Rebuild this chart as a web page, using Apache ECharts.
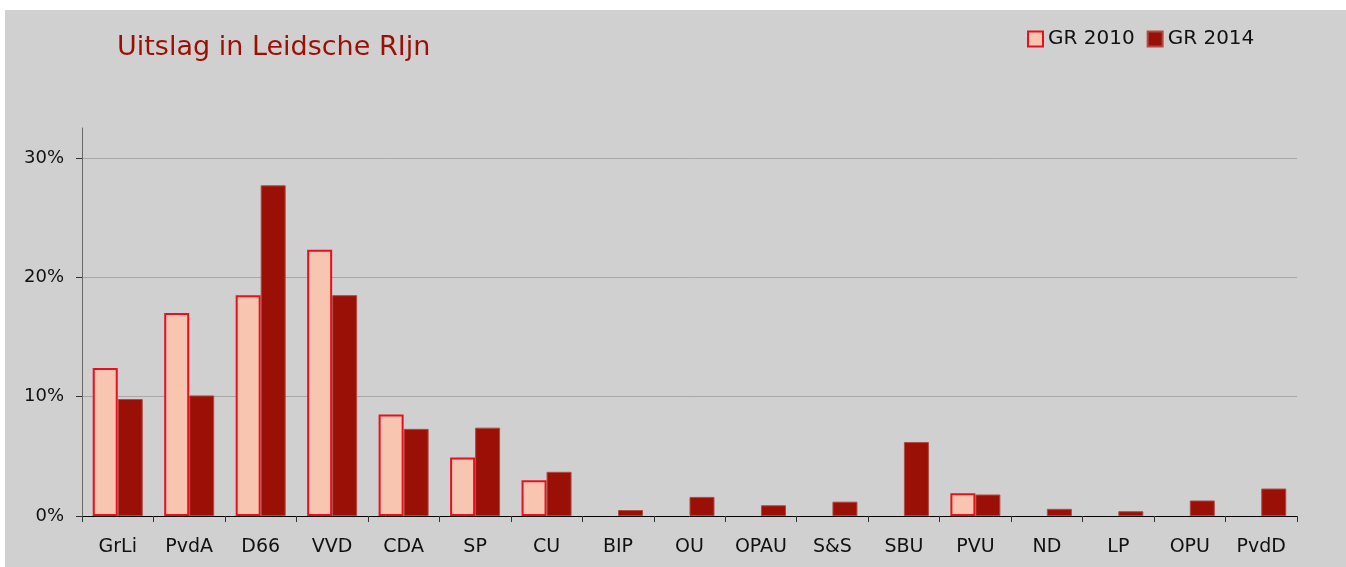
<!DOCTYPE html>
<html>
<head>
	<title>Uitslag in Leidsche RIjn</title>
	<meta charset="utf-8"/>
	<style type="text/css">
		html,body{
			margin: 0;
			padding: 0;
			background: #ffffff;
			overflow: hidden;
		}
		#chart{
			position: absolute;
			left: 5px;
			top: 10px;
			width: 1341px;
			height: 557px;
			background: #d0d0d0;
		}
	</style>
</head>
<body>
	<div id="chart"></div>

	<script src="https://cdn.jsdelivr.net/npm/echarts@6/dist/echarts.min.js"></script>
	<script type="text/javascript">

		// partijen
		var parties = ['GrLi','PvdA','D66','VVD','CDA','SP','CU','BIP','OU','OPAU','S&S','SBU','PVU','ND','LP','OPU','PvdD'];

		// uitslag in %
		var gr2010 = [12.4, 17.0, 18.5, 22.3, 8.5, 4.9, 3.0, null, null, null, null, null, 1.9, null, null, null, null];
		var gr2014 = [9.8, 10.1, 27.7, 18.5, 7.3, 7.4, 3.7, 0.5, 1.6, 0.9, 1.2, 6.2, 1.8, 0.6, 0.4, 1.3, 2.3];

		var yTicks = [0, 10, 20, 30];

		var chart = echarts.init(document.getElementById('chart'));

		var option = {
			backgroundColor: '#d0d0d0',
			animation: false,
			textStyle: {
				fontFamily: 'DejaVu Sans'
			},
			title: {
				text: 'Uitslag in Leidsche RIjn',
				left: 107,
				top: 19,
				textStyle: {
					color: '#9b1006',
					fontSize: 27,
					fontWeight: 'normal',
					fontFamily: 'DejaVu Sans'
				}
			},
			legend: {
				data: ['GR 2010','GR 2014'],
				icon: 'rect',
				left: 1017,
				top: 14,
				itemWidth: 15,
				itemHeight: 15,
				itemGap: 12,
				textStyle: {
					color: '#111111',
					fontSize: 20
				}
			},
			grid: {
				left: 77,
				top: 118,
				width: 1215,
				height: 388
			},
			xAxis: {
				type: 'category',
				data: parties,
				axisLine: { lineStyle: { color: '#000000', width: 1 } },
				axisTick: { show: true, length: 6, lineStyle: { color: '#333333' } },
				axisLabel: { color: '#111111', fontSize: 19, margin: 22 }
			},
			yAxis: {
				type: 'value',
				min: 0,
				max: 32.5,
				interval: 10,
				axisLine: { show: true, lineStyle: { color: '#666666', width: 1 } },
				axisTick: { show: true, length: 6, lineStyle: { color: '#333333' }, customValues: yTicks },
				axisLabel: {
					color: '#111111',
					fontSize: 18,
					margin: 18,
					customValues: yTicks,
					formatter: '{value}%'
				},
				splitLine: {
					show: true,
					lineStyle: { color: ['#a8a8a8','#a8a8a8','#a8a8a8','#a8a8a8','transparent'], width: 1 }
				}
			},
			series: [
				{
					name: 'GR 2010',
					type: 'bar',
					data: gr2010,
					barWidth: 25,
					barGap: '0%',
					itemStyle: {
						color: '#f8c6b0',
						borderColor: '#e8101e',
						borderWidth: 2
					}
				},
				{
					name: 'GR 2014',
					type: 'bar',
					data: gr2014,
					barWidth: 25,
					barGap: '0%',
					itemStyle: {
						color: '#9b1006',
						borderColor: '#b04a44',
						borderWidth: 1
					}
				}
			]
		};

		chart.setOption(option);

	</script>
</body>
</html>
